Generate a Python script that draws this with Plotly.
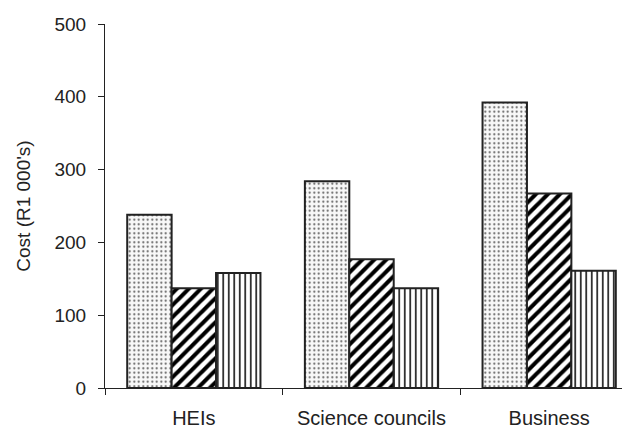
import plotly.graph_objects as go

categories = ["HEIs", "Science councils", "Business"]
series_a = [238, 284, 392]
series_b = [137, 177, 267]
series_c = [158, 137, 161]
y_ticks = [0, 100, 200, 300, 400, 500]

patterns = [
    dict(shape=".", fgcolor="#555555", bgcolor="#f8f8f8", size=4.5, solidity=0.16, fgopacity=1),
    dict(shape="/", fgcolor="#000000", bgcolor="white", size=8.5, solidity=0.48, fgopacity=1),
    dict(shape="|", fgcolor="#1a1a1a", bgcolor="white", size=5.5, solidity=0.3, fgopacity=1),
]
fig = go.Figure()
for vals, pattern in zip([series_a, series_b, series_c], patterns):
    fig.add_trace(go.Bar(
        x=categories, y=vals,
        marker=dict(color="white", pattern=pattern,
                    line=dict(color="#222222", width=2)),
        showlegend=False,
    ))

# page body has an 8px margin; offsets below compensate for it
fig.update_layout(
    width=630, height=428,
    margin=dict(l=97, r=0, t=16, b=48),
    paper_bgcolor="white", plot_bgcolor="white",
    barmode="group", bargap=0.25, bargroupgap=0,
    font=dict(family="Liberation Sans, Arial, sans-serif", size=20, color="#222222"),
)
fig.update_xaxes(
    range=[-0.5, 2.5], showline=True, linecolor="#222222", linewidth=1.2,
    ticks="outside", tickson="boundaries", ticklen=6, tickcolor="#222222",
    ticklabelstandoff=12,
    showgrid=False, zeroline=False, tickfont=dict(size=20),
)
fig.update_yaxes(
    range=[0, 500], tickvals=y_ticks, showline=True, linecolor="#222222", linewidth=1.2,
    ticks="outside", ticklen=6, tickcolor="#222222", showgrid=False, zeroline=False,
    ticklabelstandoff=8,
    title=dict(text="Cost (R1 000's)", font=dict(size=19), standoff=18),
    tickfont=dict(size=19),
)
fig.write_html("out.html")
